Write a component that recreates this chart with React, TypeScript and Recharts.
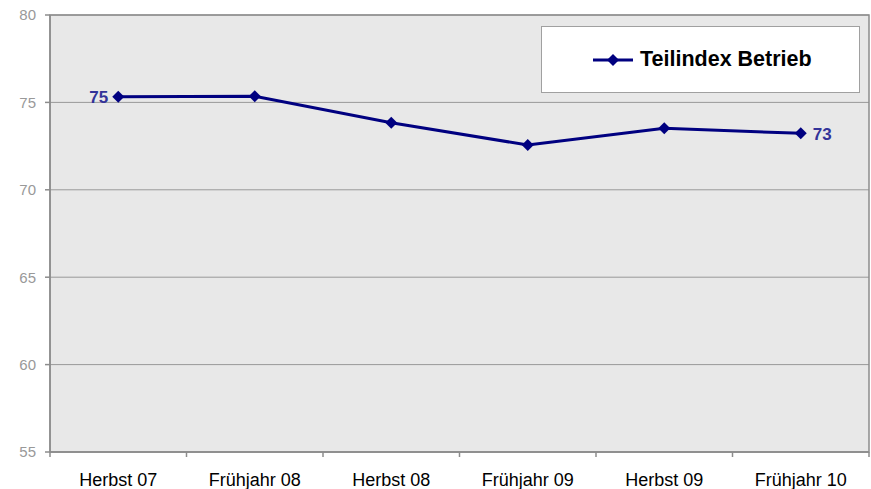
import React from 'react';
import { LineChart, Line, XAxis, YAxis, CartesianGrid, Legend, LabelList, ReferenceArea } from 'recharts';

const categories = ['Herbst 07', 'Frühjahr 08', 'Herbst 08', 'Frühjahr 09', 'Herbst 09', 'Frühjahr 10'];
const betriebValues = [75.33, 75.35, 73.84, 72.56, 73.52, 73.23];
const yTicks = [55, 60, 65, 70, 75, 80];
const seriesName = 'Teilindex Betrieb';

const FONT = '"Liberation Sans", Arial, sans-serif';
const NAVY = '#000080';
const AXIS_GRAY = '#8c8c8c';

// x runs 0..n, each category sits at the middle of its slot
const chartData = categories.map((label, i) => ({ x: i + 0.5, label, value: betriebValues[i] }));
const xTicks: number[] = [];
for (let i = 0; i <= categories.length * 2; i++) xTicks.push(i / 2);

const Diamond = (props: any) => {
    const { cx, cy, r = 6 } = props;
    if (cx == null || cy == null) return null;
    return (
        <polygon
            points={`${cx},${cy - r} ${cx + r},${cy} ${cx},${cy + r} ${cx - r},${cy}`}
            fill={NAVY}
        />
    );
};

const XTick = (props: any) => {
    const { x, y, payload } = props;
    const v = payload.value;
    if (Number.isInteger(v)) {
        // boundary tick mark only
        return <line x1={x} x2={x} y1={y - 5} y2={y} stroke={AXIS_GRAY} strokeWidth={1.5} />;
    }
    return (
        <text x={x} y={y + 29} textAnchor="middle" fontFamily={FONT} fontSize={18} fill="#000">
            {categories[Math.floor(v)]}
        </text>
    );
};

const EndLabel = (props: any) => {
    const { x, y, value, index } = props;
    const last = categories.length - 1;
    if (index !== 0 && index !== last) return null;
    const left = index === 0;
    return (
        <text
            x={left ? x - 10 : x + 12}
            y={y + 1}
            textAnchor={left ? 'end' : 'start'}
            dominantBaseline="central"
            fontFamily={FONT}
            fontWeight="bold"
            fontSize={17}
            fill="#333399"
        >
            {Math.round(value)}
        </text>
    );
};

const LegendBox = () => (
    <div style={{
        width: 317,
        height: 65,
        background: '#fff',
        border: '1px solid #a0a0a0',
        display: 'flex',
        alignItems: 'center',
        fontFamily: FONT,
    }}>
        <svg width={42} height={14} style={{ marginLeft: 51 }}>
            <line x1={0} x2={40} y1={7} y2={7} stroke={NAVY} strokeWidth={3} />
            <Diamond cx={20} cy={7} r={6} />
        </svg>
        <span style={{ marginLeft: 5, fontWeight: 'bold', fontSize: 21.5, color: '#000' }}>{seriesName}</span>
    </div>
);

export default function App() {
    return (
        <div style={{ width: 871, height: 489 }}>
            <style>{'body{margin:0}'}</style>
            <LineChart width={871} height={489} data={chartData} margin={{ top: 15, right: 2, left: 0, bottom: 0 }}>
                <CartesianGrid vertical={false} stroke="#999" fill="#e8e8e8" />
                <ReferenceArea x1={0} x2={categories.length} y1={55} y2={80} fill="none" stroke={AXIS_GRAY} strokeWidth={1.5} ifOverflow="visible" />
                <XAxis
                    dataKey="x"
                    type="number"
                    domain={[0, categories.length]}
                    ticks={xTicks}
                    interval={0}
                    tick={<XTick />}
                    tickLine={false}
                    tickSize={5}
                    tickMargin={0}
                    height={37}
                    stroke={AXIS_GRAY}
                    strokeWidth={1.5}
                />
                <YAxis
                    domain={[55, 80]}
                    ticks={yTicks}
                    width={50}
                    tickSize={5}
                    tickMargin={9}
                    stroke={AXIS_GRAY}
                    strokeWidth={1.5}
                    tick={{ fill: '#999', fontSize: 15, fontFamily: FONT }}
                />
                <Legend
                    layout="vertical"
                    align="center"
                    verticalAlign="middle"
                    wrapperStyle={{ left: 541, top: 26, width: 319, height: 67 }}
                    content={<LegendBox />}
                />
                <Line
                    type="linear"
                    dataKey="value"
                    name={seriesName}
                    stroke={NAVY}
                    strokeWidth={3}
                    dot={<Diamond r={6} />}
                    activeDot={false}
                    isAnimationActive={false}
                >
                    <LabelList dataKey="value" content={<EndLabel />} />
                </Line>
            </LineChart>
        </div>
    );
}
